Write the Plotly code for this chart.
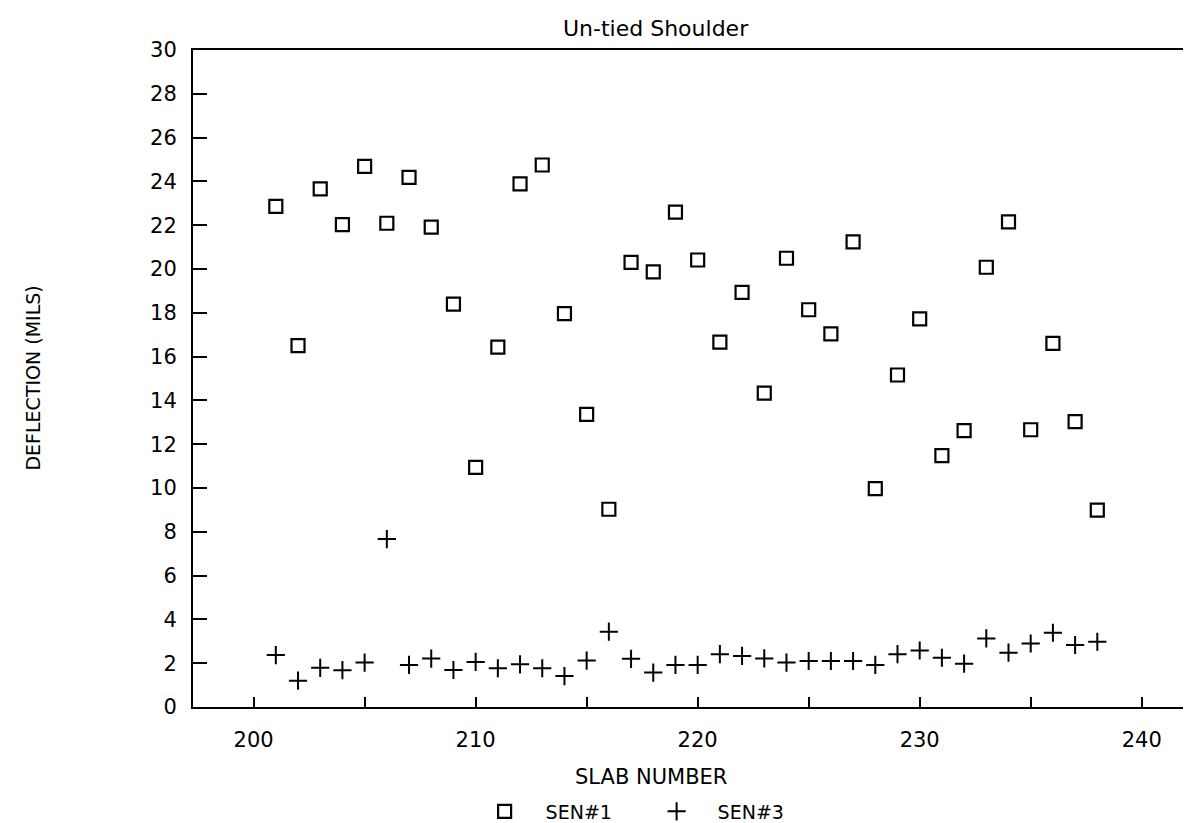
import plotly.graph_objects as go

slab = list(range(201, 239))
sen1 = [22.86, 16.5, 23.66, 22.03, 24.69, 22.09, 24.18, 21.91, 18.40, 10.94,
        16.43, 23.89, 24.75, 17.96, 13.36, 9.03, 20.3, 19.87, 22.6, 20.41,
        16.66, 18.93, 14.33, 20.49, 18.14, 17.04, 21.24, 9.97, 15.16, 17.72,
        11.48, 12.62, 20.08, 22.15, 12.66, 16.6, 13.03, 8.99]
sen3 = [2.37, 1.2, 1.79, 1.68, 2.03, 7.67, 1.92, 2.21, 1.69, 2.06,
        1.77, 1.95, 1.77, 1.41, 2.12, 3.44, 2.2, 1.57, 1.92, 1.92,
        2.41, 2.33, 2.22, 2.03, 2.10, 2.10, 2.10, 1.92, 2.41, 2.58,
        2.25, 1.98, 3.13, 2.48, 2.9, 3.39, 2.83, 2.98]
x_ticks = list(range(200, 245, 5))
x_labels = [str(v) if v % 10 == 0 else "" for v in x_ticks]
y_ticks = list(range(0, 31, 2))

FONT = "DejaVu Sans"

fig = go.Figure()
fig.add_trace(go.Scatter(x=slab, y=sen1, mode="markers", name="SEN#1",
                         marker=dict(symbol="square-open", size=13, color="black",
                                     line=dict(width=2.2, color="black"))))
fig.add_trace(go.Scatter(x=slab, y=sen3, mode="markers", name="SEN#3",
                         marker=dict(symbol="cross-thin-open", size=13, color="black",
                                     line=dict(width=2, color="black"))))

fig.update_layout(
    width=1191, height=823,
    margin=dict(l=185, r=0, t=42, b=120),
    paper_bgcolor="white", plot_bgcolor="white",
    font=dict(family=FONT, size=20, color="black"),
    showlegend=True,
    legend=dict(orientation="h", x=0.269, y=-0.159, xanchor="left", yanchor="middle",
                font=dict(size=19, family=FONT), itemwidth=72, entrywidth=85,
                bgcolor="rgba(0,0,0,0)"),
    xaxis=dict(range=[197.27, 242.58], tickvals=x_ticks, ticktext=x_labels,
               ticks="inside", ticklen=10, tickwidth=2, tickcolor="black",
               showline=True, linecolor="black", linewidth=2, mirror=True,
               showgrid=False, zeroline=False, ticklabelstandoff=13,
               tickfont=dict(size=21, family=FONT)),
    yaxis=dict(range=[0, 30], tickvals=y_ticks, ticks="inside", ticklen=14,
               tickwidth=2, tickcolor="black", showline=True, linecolor="black",
               linewidth=2, showgrid=False, zeroline=False, ticklabelstandoff=10,
               tickfont=dict(size=21, family=FONT)),
    annotations=[
        dict(text="Un-tied Shoulder", xref="paper", yref="paper", x=0.460, y=1.033,
             xanchor="center", yanchor="middle", showarrow=False,
             font=dict(size=22, family=FONT)),
        dict(text="SLAB NUMBER", xref="paper", yref="paper", x=0.455, y=-0.106,
             xanchor="center", yanchor="middle", showarrow=False,
             font=dict(size=21, family=FONT)),
        dict(text="DEFLECTION (MILS)", xref="paper", yref="paper", x=-0.16, y=0.5,
             xanchor="center", yanchor="middle", textangle=-90, showarrow=False,
             font=dict(size=19, family=FONT)),
    ],
)

fig.write_html("out.html")
